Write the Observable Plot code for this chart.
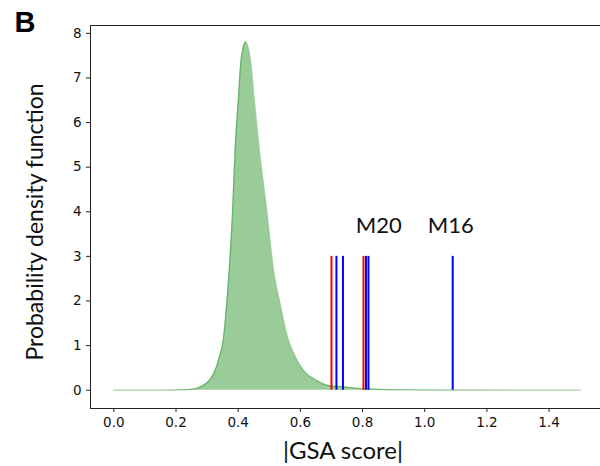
<!DOCTYPE html>
<html>
<head>
<meta charset="utf-8">
<script src="https://cdn.jsdelivr.net/npm/d3@7"></script>
<script src="https://cdn.jsdelivr.net/npm/@observablehq/plot@0.6"></script>
<style>
  html, body { margin: 0; padding: 0; background: #fff; }
  #chart svg { display: block; }
</style>
</head>
<body>
<div id="chart"></div>
<script>
// Density curve of |GSA score|
const densityX = [0, 0.10, 0.20, 0.25, 0.27, 0.285, 0.306, 0.325, 0.339, 0.353, 0.363, 0.371, 0.382, 0.390, 0.401, 0.408, 0.416, 0.424, 0.432, 0.441, 0.451, 0.467, 0.492, 0.514, 0.535, 0.559, 0.585, 0.612, 0.655, 0.687, 0.71, 0.74, 0.77, 0.80, 0.85, 0.90, 1.00, 1.20, 1.50];
const densityY = [0, 0, 0.005, 0.02, 0.05, 0.10, 0.21, 0.43, 0.73, 1.18, 1.93, 2.67, 4.02, 5.37, 6.56, 7.31, 7.68, 7.81, 7.68, 7.31, 6.56, 5.44, 4.02, 2.67, 1.93, 1.18, 0.73, 0.43, 0.21, 0.11, 0.09, 0.08, 0.05, 0.03, 0.02, 0.01, 0.005, 0.002, 0];

// Marked gene-set scores
const redScores = [0.700, 0.803];
const blueScores = [0.716, 0.737, 0.811, 0.819, 1.090];
const markHeight = 3;

// Annotations
const annoText = ["M20", "M16"];
const annoX = [0.852, 1.084];
const annoY = [3.68, 3.68];

const xTicks = [0, 0.2, 0.4, 0.6, 0.8, 1.0, 1.2, 1.4];
const yTicks = [0, 1, 2, 3, 4, 5, 6, 7, 8];
const xLabel = "|GSA score|";
const yLabel = "Probability density function";
const panelLabel = "B";

const density = densityX.map((x, i) => ({x, y: densityY[i]}));
const rules = [
  ...redScores.map(x => ({x, c: "#ff0000"})),
  ...blueScores.map(x => ({x, c: "#0000ff"}))
];
const annos = annoText.map((t, i) => ({t, x: annoX[i], y: annoY[i]}));

const tickFont = "'DejaVu Sans', sans-serif";
const labelFont = "Lato, 'Open Sans', sans-serif";

const chart = Plot.plot({
  width: 600,
  height: 466,
  marginTop: 25,
  marginBottom: 58,
  marginLeft: 90,
  marginRight: -3,
  style: {background: "#fff", color: "#111"},
  x: {domain: [-0.075, 1.575]},
  y: {domain: [-0.41, 8.175]},
  marks: [
    Plot.frame({stroke: "#222", strokeWidth: 1}),
    Plot.areaY(density, {x: "x", y: "y", fill: "green", fillOpacity: 0.4, curve: "monotone-x"}),
    Plot.lineY(density, {x: "x", y: "y", stroke: "green", strokeOpacity: 0.35, strokeWidth: 1.3, curve: "monotone-x"}),
    Plot.ruleX(rules, {x: "x", y1: 0, y2: markHeight, stroke: "c", strokeWidth: 2}),
    Plot.text(annos, {x: "x", y: "y", text: "t", fontSize: 22, fontFamily: labelFont, fill: "#111"}),
    Plot.axisX({ticks: xTicks, tickFormat: d3.format(".1f"), tickSize: 4, tickPadding: 5, fontSize: 13.5, fontFamily: tickFont, label: null, stroke: "#222", fill: "#111"}),
    Plot.axisY({ticks: yTicks, tickFormat: d3.format("d"), tickSize: 4, tickPadding: 5, fontSize: 13.5, fontFamily: tickFont, label: null, stroke: "#222", fill: "#111"}),
    Plot.text([xLabel], {frameAnchor: "bottom", dy: 50, dx: -4, fontSize: 24, fontFamily: labelFont, fill: "#111"}),
    Plot.text([yLabel], {frameAnchor: "left", textAnchor: "middle", rotate: -90, dx: -55, dy: 5, fontSize: 23, fontFamily: labelFont, fill: "#111"}),
    Plot.text([panelLabel], {frameAnchor: "top-left", textAnchor: "start", lineAnchor: "middle", dx: -76, dy: -3, fontSize: 29, fontWeight: "bold", fontFamily: "'Liberation Sans', Arial, sans-serif", fill: "#000"})
  ]
});
document.getElementById("chart").append(chart);
</script>
</body>
</html>
